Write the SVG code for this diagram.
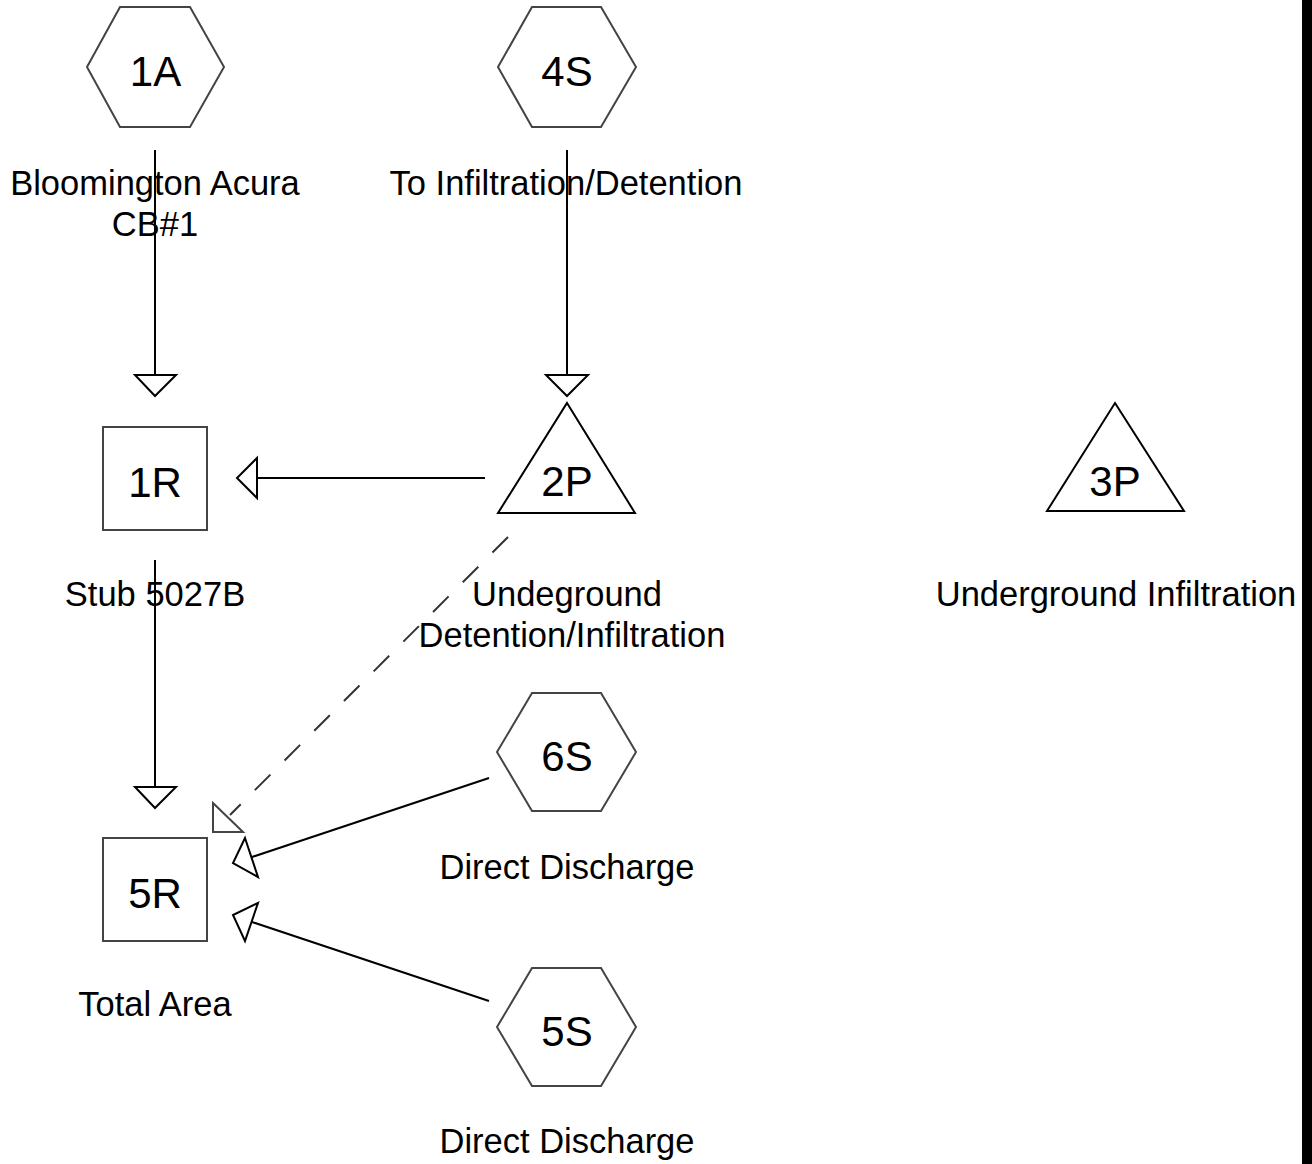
<svg xmlns="http://www.w3.org/2000/svg" width="1312" height="1164" viewBox="0 0 1312 1164">
<style>
.hex,.sq{fill:#fff;stroke:#444;stroke-width:2}
.tri{fill:#fff;stroke:#000;stroke-width:2}
.id{font-family:"Liberation Sans",Arial,sans-serif;font-size:42px;text-anchor:middle;fill:#000}
.lb{font-family:"Liberation Sans",Arial,sans-serif;font-size:34.5px;text-anchor:middle;fill:#000}
.ln{stroke:#000;stroke-width:2;fill:none}
.ah{fill:#fff;stroke:#000;stroke-width:2;stroke-linejoin:miter}
.dash{stroke:#333;stroke-width:2;stroke-dasharray:22 20;fill:none}
.dah{fill:#fff;stroke:#444;stroke-width:2}
</style>
<rect width="1312" height="1164" fill="#fff"/>
<g id="connectors">
<line class="ln" x1="155" y1="150" x2="155" y2="375"/>
<polygon class="ah" points="135,375 176,375 155,396"/>
<line class="ln" x1="567" y1="150" x2="567" y2="375"/>
<polygon class="ah" points="546,375 588,375 567,396"/>
<line class="ln" x1="485" y1="478" x2="257" y2="478"/>
<polygon class="ah" points="257,458 257,498 237,478"/>
<line class="ln" x1="155" y1="560" x2="155" y2="787"/>
<polygon class="ah" points="135,787 176,787 155,808"/>
<line class="dash" x1="508" y1="537" x2="230" y2="815"/>
<polygon class="dah" points="213,803 243,832 213,832"/>
<line class="ln" x1="489" y1="778" x2="252" y2="857"/>
<polygon class="ah" points="245,838 258,877 233,863"/>
<line class="ln" x1="489" y1="1001" x2="252" y2="922"/>
<polygon class="ah" points="258,903 245,941 233,915"/>
</g>
<g id="n1A">
<polygon class="hex" points="87,67 120,7 190,7 224,67 190,127 120,127"/>
<text class="id" x="155.5" y="86">1A</text>
<text class="lb" x="155" y="195">Bloomington Acura</text>
<text class="lb" x="155" y="236">CB#1</text>
</g>
<g id="n4S">
<polygon class="hex" points="498,67 532,7 601,7 636,67 601,127 532,127"/>
<text class="id" x="567" y="86">4S</text>
<text class="lb" x="566" y="195">To Infiltration/Detention</text>
</g>
<g id="n1R">
<rect class="sq" x="103" y="427" width="104" height="103"/>
<text class="id" x="155" y="497">1R</text>
<text class="lb" x="155" y="606">Stub 5027B</text>
</g>
<g id="n2P">
<polygon class="tri" points="567,403 635,513 498,513"/>
<text class="id" x="567" y="496">2P</text>
<text class="lb" x="567" y="606">Undeground</text>
<text class="lb" x="572" y="647">Detention/Infiltration</text>
</g>
<g id="n3P">
<polygon class="tri" points="1115,403 1184,511 1047,511"/>
<text class="id" x="1115" y="496">3P</text>
<text class="lb" x="1116" y="606">Underground Infiltration</text>
</g>
<g id="n6S">
<polygon class="hex" points="497,752 532,693 601,693 636,752 601,811 532,811"/>
<text class="id" x="567" y="771">6S</text>
<text class="lb" x="567" y="879">Direct Discharge</text>
</g>
<g id="n5R">
<rect class="sq" x="103" y="838" width="104" height="103"/>
<text class="id" x="155" y="908">5R</text>
<text class="lb" x="155" y="1016">Total Area</text>
</g>
<g id="n5S">
<polygon class="hex" points="497,1027 532,968 601,968 636,1027 601,1086 532,1086"/>
<text class="id" x="567" y="1046">5S</text>
<text class="lb" x="567" y="1153">Direct Discharge</text>
</g>
<rect x="1302" y="0" width="10" height="1164" fill="#000"/>
</svg>
